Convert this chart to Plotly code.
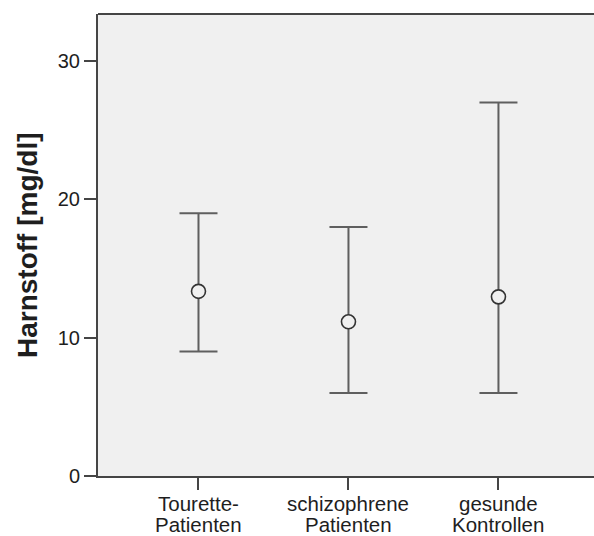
import plotly.graph_objects as go

# Data
categories = ["Tourette-Patienten", "schizophrene Patienten", "gesunde Kontrollen"]
label_line1 = ["Tourette-", "schizophrene", "gesunde"]
label_line2 = ["Patienten", "Patienten", "Kontrollen"]
means = [13.35, 11.15, 12.95]
upper = [19.0, 18.0, 27.0]
lower = [9.0, 6.0, 6.0]
y_ticks = [0, 10, 20, 30]

xpos = list(range(len(categories)))
err_plus = [u - m for u, m in zip(upper, means)]
err_minus = [m - l for m, l in zip(means, lower)]

FONT = "Liberation Sans, Arial, sans-serif"
AXIS_COL = "#454545"
TEXT_COL = "#1e1e1e"

fig = go.Figure()
fig.add_trace(go.Scatter(
    x=xpos, y=means, mode="markers",
    marker=dict(symbol="circle", size=14, color="#f0f0f0",
                line=dict(color="#333333", width=1.6)),
    error_y=dict(type="data", symmetric=False, array=err_plus,
                 arrayminus=err_minus, color="#5f5f5f",
                 thickness=2, width=19),
    showlegend=False, hoverinfo="skip",
))

annotations = []
for i, (l1, l2) in enumerate(zip(label_line1, label_line2)):
    annotations.append(dict(x=xpos[i], y=0, xref="x", yref="paper", text=l1,
                            showarrow=False, yanchor="middle", yshift=-27,
                            font=dict(family=FONT, size=20.5, color=TEXT_COL)))
    annotations.append(dict(x=xpos[i], y=0, xref="x", yref="paper", text=l2,
                            showarrow=False, yanchor="middle", yshift=-48,
                            font=dict(family=FONT, size=20.5, color=TEXT_COL)))
annotations.append(dict(x=0, y=0.5, xref="paper", yref="paper",
                        text="<b>Harnstoff [mg/dl]</b>", textangle=-90,
                        showarrow=False, xanchor="center", yanchor="middle",
                        xshift=-71,
                        font=dict(family=FONT, size=28, color=TEXT_COL)))

fig.update_layout(
    width=594, height=536,
    margin=dict(l=98, r=0, t=14, b=60, pad=0),
    paper_bgcolor="white", plot_bgcolor="#f0f0f0",
    annotations=annotations,
    shapes=[dict(type="line", xref="paper", yref="paper", x0=0, x1=1,
                 y0=1, y1=1, line=dict(color=AXIS_COL, width=2))],
    xaxis=dict(range=[-0.67, 2.637], tickvals=xpos, showticklabels=False,
               ticks="outside", ticklen=12, tickwidth=2, tickcolor=AXIS_COL,
               showline=True, linecolor=AXIS_COL, linewidth=2,
               showgrid=False, zeroline=False, fixedrange=True),
    yaxis=dict(range=[0, 33.4], tickvals=y_ticks,
               ticktext=[str(t) for t in y_ticks],
               ticks="outside", ticklen=12, tickwidth=2, tickcolor=AXIS_COL,
               showline=True, linecolor=AXIS_COL, linewidth=2,
               showgrid=False, zeroline=False, fixedrange=True,
               tickfont=dict(family=FONT, size=20, color=TEXT_COL)),
)

fig.write_html(
    "out.html",
    config={"displayModeBar": False, "staticPlot": True},
    post_script="document.body.style.margin='0';document.body.style.overflow='hidden';",
)
